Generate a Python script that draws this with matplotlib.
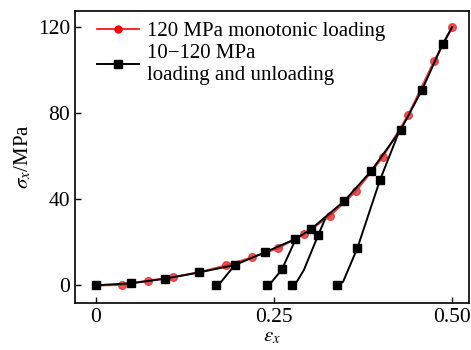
import numpy as np
import matplotlib
matplotlib.use("Agg")
import matplotlib.pyplot as plt

plt.rcParams['font.family'] = ['Liberation Serif', 'DejaVu Serif']
plt.rcParams['mathtext.fontset'] = 'stix'

# 120 MPa monotonic loading (red circles)
mono_x = [0.0, 0.036, 0.0726, 0.1086, 0.145, 0.182, 0.2196, 0.256, 0.292,
          0.3287, 0.365, 0.4026, 0.4387, 0.475, 0.5005]
mono_y = [-0.2, 0.1, 2.0, 3.7, 5.9, 9.1, 12.9, 17.2, 23.7,
          32.2, 43.6, 59.5, 79.2, 104.3, 120.0]

# 10-120 MPa loading and unloading, envelope (black squares)
env_x = [0.0, 0.0487, 0.0964, 0.145, 0.195, 0.237, 0.28, 0.302, 0.349,
         0.386, 0.428, 0.458, 0.487, 0.5]
env_y = [-0.1, 0.8, 2.9, 5.9, 9.3, 15.2, 21.4, 26.0, 39.2,
         52.9, 72.2, 90.9, 112.2, 120.0]

# unloading branches (line points) and their marked points
branch1_x = [0.1685, 0.174, 0.182, 0.195]
branch1_y = [0.0, 0.8, 4.0, 9.3]
branch2_x = [0.2405, 0.247, 0.2612, 0.2805]
branch2_y = [0.0, 1.5, 7.3, 21.3]
branch3_x = [0.275, 0.282, 0.292, 0.3123, 0.3215]
branch3_y = [0.0, 1.5, 7.0, 23.4, 30.5]
branch4_x = [0.339, 0.347, 0.367, 0.3989, 0.424]
branch4_y = [0.0, 1.5, 17.1, 48.9, 70.0]

marks_x = [0.1685, 0.2405, 0.2612, 0.275, 0.3123, 0.339, 0.367, 0.3989]
marks_y = [0.0, 0.0, 7.3, 0.0, 23.4, 0.0, 17.1, 48.9]

fig = plt.figure(figsize=(4.71, 3.5), dpi=100)
ax = fig.add_axes([0.159, 0.134, 0.837, 0.835])

ax.plot(mono_x, mono_y, color='#e01010', lw=1.5, marker='o', ms=5.5,
        mfc='#e03030', mec='#e03030', alpha=0.8, zorder=2)
ax.plot([], [], color='red', lw=1.2, marker='o', ms=5,
        label='120 MPa monotonic loading')

ax.plot(env_x, env_y, color='black', lw=1.4, marker='s', ms=5.5, zorder=3,
        markevery=list(range(len(env_x) - 1)),
        label='10\u2212120 MPa\nloading and unloading')
for bx, by in [(branch1_x, branch1_y), (branch2_x, branch2_y),
               (branch3_x, branch3_y), (branch4_x, branch4_y)]:
    ax.plot(bx, by, color='black', lw=1.4, zorder=3)
ax.plot(marks_x, marks_y, ls='none', color='black', marker='s', ms=5.5, zorder=3)

ax.set_xlim(-0.0295, 0.524)
ax.set_ylim(-8.4, 127.6)
ax.set_xticks([0, 0.25, 0.5])
ax.set_xticklabels(['0', '0.25', '0.50'])
ax.set_yticks([0, 40, 80, 120])
ax.tick_params(direction='in', labelsize=15.5, length=4, width=1)
ax.set_xlabel(r'$\varepsilon_x$', fontsize=15, labelpad=0)
ax.set_ylabel(r'$\sigma_x$/MPa', fontsize=15, labelpad=3)
for s in ax.spines.values():
    s.set_linewidth(1.2)

leg = ax.legend(loc='upper left', frameon=False, fontsize=15, handlelength=2.0,
                handletextpad=0.4, borderaxespad=0.1, labelspacing=0.15,
                bbox_to_anchor=(0.03, 1.0))

fig.savefig('out.png', dpi=100)
